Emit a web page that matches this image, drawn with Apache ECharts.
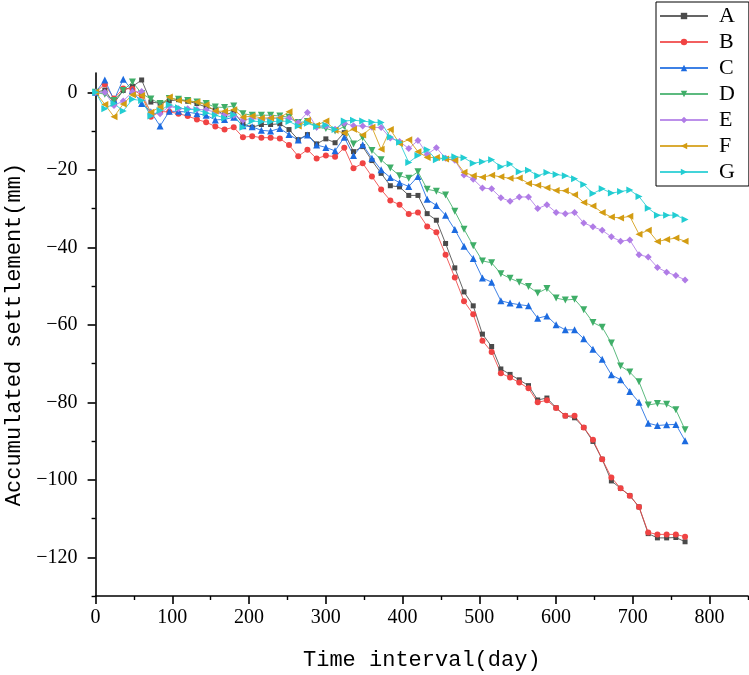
<!DOCTYPE html>
<html>
<head>
<meta charset="utf-8">
<script src="https://cdn.jsdelivr.net/npm/echarts@6/dist/echarts.min.js"></script>
<style>html,body{margin:0;padding:0;background:#fff}#c{width:749px;height:675px}</style>
</head>
<body>
<div id="c"></div>
<script>
// time interval (day) for each survey
const days = [0,12,24,36,48,60,72,84,96,108,120,132,144,156,168,180,192,204,216,228,240,252,264,276,288,300,312,324,336,348,360,372,384,396,408,420,432,444,456,468,480,492,504,516,528,540,552,564,576,588,600,612,624,636,648,660,672,684,696,708,720,732,744,756,768];

const A = [0,0.6,-2.8,0.5,1.5,3.2,-2.5,-2.8,-2.2,-1.9,-2.3,-2.9,-3.8,-4.5,-5.8,-5.1,-8.1,-9.0,-8.3,-8.3,-8.1,-9.6,-12.2,-10.9,-13.3,-12.0,-13.0,-10.4,-15.3,-14.0,-17.6,-20.9,-24.1,-24.4,-26.6,-26.6,-31.3,-33.0,-39.0,-45.3,-51.5,-55.1,-62.4,-65.6,-71.4,-72.8,-74.2,-75.7,-79.4,-78.9,-81.4,-83.5,-84.0,-86.5,-90.1,-94.7,-100.3,-102.2,-104.1,-107.0,-113.9,-115.0,-115.0,-114.9,-116.0];
const B = [0,2.1,-1.6,1.0,0.9,-0.8,-6.3,-5.0,-5.0,-5.5,-6.1,-7.0,-7.7,-8.8,-9.6,-9.0,-11.6,-11.3,-11.7,-11.7,-11.9,-13.6,-16.5,-14.8,-17.1,-16.3,-16.6,-14.3,-19.6,-18.3,-21.7,-25.1,-27.9,-29.0,-31.4,-31.0,-34.6,-36.1,-41.9,-47.8,-53.9,-57.3,-64.1,-67.0,-72.5,-73.6,-74.9,-76.4,-80.0,-79.5,-81.5,-83.5,-83.5,-86.5,-89.7,-94.7,-99.4,-102.2,-104.1,-107.0,-113.6,-114.1,-114.1,-114.1,-114.7];
const C = [0,3.2,-2.0,3.4,0.5,-2.9,-5.0,-8.7,-4.9,-4.9,-5.1,-5.5,-5.9,-7.1,-7.0,-6.4,-8.6,-8.9,-9.8,-10.0,-9.3,-10.9,-12.3,-11.0,-13.6,-14.2,-15.1,-11.6,-16.3,-13.5,-17.0,-20.0,-22.0,-23.3,-24.3,-21.7,-27.6,-29.2,-31.7,-35.4,-39.7,-42.9,-47.9,-49.0,-53.8,-54.4,-54.8,-55.1,-58.3,-57.7,-60.0,-61.3,-61.3,-63.6,-66.3,-68.9,-72.9,-74.2,-77.2,-80.0,-85.4,-86.0,-85.8,-85.7,-89.9];
const D = [0,-0.5,-2.1,0.5,2.7,-0.3,-1.7,-2.9,-1.6,-1.8,-2.1,-2.5,-2.9,-3.8,-3.9,-3.5,-5.5,-5.9,-5.9,-5.9,-6.1,-6.4,-7.8,-7.5,-9.0,-9.3,-10.0,-8.8,-13.3,-11.7,-15.0,-17.4,-19.5,-21.5,-22.2,-20.5,-25.0,-25.5,-26.5,-30.7,-35.3,-39.6,-43.5,-44.0,-46.8,-48.0,-49.0,-50.1,-51.8,-50.6,-53.1,-53.6,-53.4,-56.1,-59.4,-60.6,-64.7,-70.6,-72.2,-74.7,-80.7,-80.3,-80.5,-81.9,-87.1];
const E = [0,0,-3.4,-2.2,0.1,0.2,-5.4,-5.5,-3.6,-4.2,-4.2,-4.4,-4.5,-5.1,-5.8,-5.9,-7.2,-6.7,-7.0,-6.7,-6.7,-6.7,-7.8,-5.2,-9.0,-8.7,-9.5,-8.0,-8.6,-8.7,-9.0,-9.1,-11.8,-12.7,-14.5,-12.4,-16.0,-14.3,-17.0,-17.5,-21.3,-22.4,-24.7,-24.9,-27.2,-28.1,-27.0,-27.0,-30.0,-29.0,-31.0,-31.3,-31.0,-33.7,-34.7,-35.6,-37.3,-38.4,-38.1,-41.9,-42.5,-45.2,-46.4,-47.3,-48.4];
const F = [0,-3.1,-6.3,-3.0,-0.6,-0.8,-5.1,-3.8,-1.2,-2.1,-2.3,-2.5,-3.2,-4.8,-4.9,-4.5,-6.4,-6.1,-6.6,-6.6,-6.6,-5.0,-8.7,-7.2,-8.5,-7.4,-9.8,-10.5,-9.5,-11.0,-9.0,-14.7,-9.6,-13.2,-12.2,-15.3,-16.8,-16.8,-17.2,-17.5,-20.6,-21.5,-21.9,-21.4,-21.8,-22.2,-22.1,-23.5,-24.0,-24.6,-25.3,-25.4,-26.4,-28.4,-29.3,-31.0,-32.2,-32.4,-32.0,-36.6,-35.6,-38.5,-38.0,-37.6,-38.4];
const G = [0,-4.2,-2.9,-4.8,-1.8,-2.1,-6.1,-4.7,-3.2,-4.0,-4.4,-4.5,-5.3,-5.9,-6.6,-5.8,-9.0,-7.4,-7.6,-7.6,-7.4,-7.5,-8.7,-8.0,-8.8,-8.5,-9.6,-7.4,-7.2,-7.4,-7.7,-7.8,-11.5,-12.9,-18.1,-16.3,-14.8,-17.4,-16.9,-16.6,-16.9,-18.3,-17.9,-17.4,-19.2,-18.5,-20.5,-20.1,-21.5,-20.7,-21.2,-21.5,-22.3,-23.8,-26.1,-24.9,-26.0,-25.6,-25.2,-26.9,-29.9,-31.7,-31.7,-31.7,-32.8];

const seriesNames = ['A','B','C','D','E','F','G'];
const seriesValues = [A,B,C,D,E,F,G];
const xMajorTicks = [0,100,200,300,400,500,600,700,800];
const xMinorTicks = [50,150,250,350,450,550,650,750,850];
const yMajorTicks = [0,-20,-40,-60,-80,-100,-120];
const yMinorTicks = [-10,-30,-50,-70,-90,-110,-130];

const colors = ['#4a4a4a','#f04343','#1c6be0','#3fae68','#b07ce6','#d39c12','#22cdd2'];
const symbols = ['rect','circle','triangle','triangle','diamond','triangle','triangle'];
const rotates = [0,0,0,180,0,90,-90];
const sizes = [5,6,7,7,7,7,7];

const chart = echarts.init(document.getElementById('c'), null, {renderer:'canvas'});
const axisCol = '#000';
const tickFont = {fontFamily:'Liberation Serif', fontSize:20, color:'#000'};

const option = {
  animation:false,
  backgroundColor:'#fff',
  color: colors,
  grid:{left:95.6, right:1, top:73, bottom:79, containLabel:false, outerBoundsMode:'none'},
  legend:{
    orient:'vertical', left:656, top:2,
    padding:[3,14,3,3], itemGap:4, itemWidth:48, itemHeight:8,
    borderColor:'#000', borderWidth:1, backgroundColor:'#fff',
    textStyle:{fontFamily:'Liberation Serif', fontSize:22, lineHeight:22, color:'#000', padding:[0,0,0,6]},
    data: seriesNames
  },
  xAxis:[{
    type:'value', min:0, max:850,
    name:'Time interval(day)', nameLocation:'middle', nameGap:53,
    nameTextStyle:{fontFamily:'Liberation Mono', fontSize:22, color:'#000'},
    axisLine:{show:true, onZero:false, lineStyle:{color:axisCol, width:1.6}},
    axisTick:{show:true, inside:false, length:8, lineStyle:{color:axisCol, width:1.6}, customValues:xMajorTicks},
    axisLabel:{...tickFont, margin:12, customValues:xMajorTicks},
    splitLine:{show:false}
  },{
    type:'value', min:0, max:850, position:'bottom',
    axisLine:{show:false, onZero:false},
    axisTick:{show:true, inside:false, length:4, lineStyle:{color:axisCol, width:1.4}, customValues:xMinorTicks},
    axisLabel:{show:false},
    splitLine:{show:false}
  }],
  yAxis:[{
    type:'value', min:-130, max:5,
    name:'Accumulated settlement(mm)', nameLocation:'middle', nameGap:63,
    nameTextStyle:{fontFamily:'Liberation Mono', fontSize:22, color:'#000'},
    axisLine:{show:true, onZero:false, lineStyle:{color:axisCol, width:1.6}},
    axisTick:{show:true, inside:false, length:8, lineStyle:{color:axisCol, width:1.6}, customValues:yMajorTicks},
    axisLabel:{...tickFont, margin:18, customValues:yMajorTicks, formatter:v => v<0 ? '\u2212'+Math.abs(v) : String(v)},
    splitLine:{show:false}
  },{
    type:'value', min:-130, max:5, position:'left',
    axisLine:{show:false, onZero:false},
    axisTick:{show:true, inside:false, length:4, lineStyle:{color:axisCol, width:1.4}, customValues:yMinorTicks},
    axisLabel:{show:false},
    splitLine:{show:false}
  }],
  series: seriesNames.map((n,k)=>({
    name:n, type:'line',
    xAxisIndex:0, yAxisIndex:0,
    data: days.map((d,i)=>[d, seriesValues[k][i]]),
    symbol: symbols[k], symbolSize: sizes[k], symbolRotate: rotates[k],
    showSymbol:true,
    lineStyle:{width:1, color:colors[k], opacity:0.85},
    itemStyle:{color:colors[k]},
    emphasis:{disabled:true}
  }))
};
chart.setOption(option);
</script>
</body>
</html>
